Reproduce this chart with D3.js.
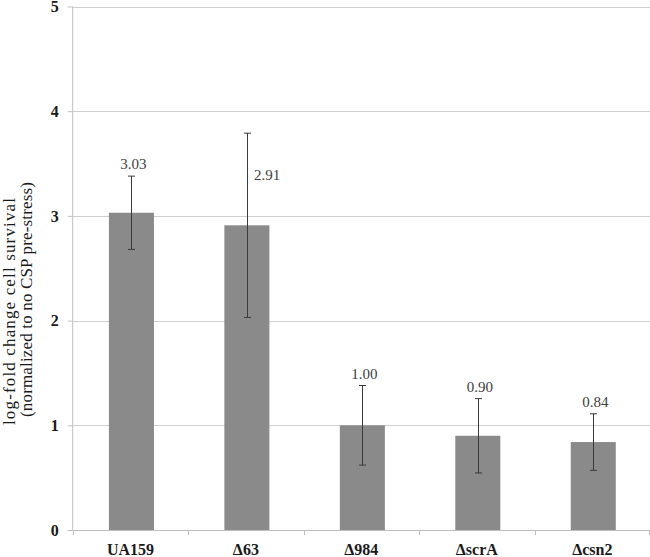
<!DOCTYPE html>
<html>
<head>
<meta charset="utf-8">
<script src="https://cdn.jsdelivr.net/npm/d3@7"></script>
<style>
  body { margin: 0; background: #fff; }
  svg { display: block; font-family: "Liberation Serif", "Times New Roman", serif; }
  .yaxis path, .yaxis line { stroke: #bfbfbf; }
  .yaxis text { font-family: "Liberation Serif", "Times New Roman", serif; font-size: 16px; font-weight: bold; fill: #1a1a1a; }
</style>
</head>
<body>
<script>
// chart values
var categories = ['UA159', '\u039463', '\u0394984', '\u0394scrA', '\u0394csn2'];
var values = [3.03, 2.91, 1.00, 0.90, 0.84];
var errors = [0.35, 0.88, 0.38, 0.355, 0.27];
var valueLabels = ['3.03', '2.91', '1.00', '0.90', '0.84'];
var yTicks = [0, 1, 2, 3, 4, 5];
var yTitleLines = ['log-fold change cell survival', '(normalized to no CSP pre-stress)'];

const w = 650;
const h = 557;
const plotLeft = 72.7, plotRight = 650, plotTop = 6.5, plotBottom = 530;

var data = categories.map(function(c, i) {
  return { name: c, value: values[i], err: errors[i], label: valueLabels[i] };
});

var xScale = d3.scaleBand()
  .domain(categories)
  .range([plotLeft, plotRight])
  .padding(0);

var yScale = d3.scaleLinear()
  .domain([0, 5])
  .range([plotBottom, plotTop]);

var chart = d3.select('body')
  .append('svg')
  .attr('width', w)
  .attr('height', h);

// gridlines
chart.append('g')
  .selectAll('line')
  .data(yTicks.filter(function(t) { return t > 0; }))
  .enter()
  .append('line')
  .attr('x1', plotLeft)
  .attr('x2', plotRight)
  .attr('y1', function(d) { return Math.round(yScale(d)) + 0.5; })
  .attr('y2', function(d) { return Math.round(yScale(d)) + 0.5; })
  .attr('stroke', '#cfcfcf')
  .attr('stroke-width', 1);

// y axis
chart.append('g')
  .attr('class', 'yaxis')
  .attr('transform', 'translate(' + plotLeft + ',0)')
  .call(d3.axisLeft(yScale).tickValues(yTicks).tickSize(5).tickPadding(9).tickFormat(d3.format('d')))
  .call(function(g) { g.select('.domain').attr('d', 'M0,' + plotTop + 'V' + plotBottom); });

// x axis line + tick marks at band edges
chart.append('line')
  .attr('x1', plotLeft).attr('x2', plotRight)
  .attr('y1', plotBottom + 0.5).attr('y2', plotBottom + 0.5)
  .attr('stroke', '#bfbfbf');

var edges = categories.map(function(c) { return xScale(c); }).concat([plotRight - 1]);
chart.append('g')
  .selectAll('line')
  .data(edges)
  .enter()
  .append('line')
  .attr('x1', function(d) { return Math.round(d) + 0.5; })
  .attr('x2', function(d) { return Math.round(d) + 0.5; })
  .attr('y1', plotBottom)
  .attr('y2', plotBottom + 5)
  .attr('stroke', '#bfbfbf');

// x labels
chart.append('g')
  .selectAll('text')
  .data(data)
  .enter()
  .append('text')
  .attr('x', function(d) { return xScale(d.name) + xScale.bandwidth() / 2; })
  .attr('y', 555)
  .attr('text-anchor', 'middle')
  .style('font-size', '16px')
  .style('font-weight', 'bold')
  .attr('fill', '#1a1a1a')
  .text(function(d) { return d.name; });

// bars
var bw = xScale.bandwidth() * 0.39;
chart.append('g')
  .selectAll('rect')
  .data(data)
  .enter()
  .append('rect')
  .attr('x', function(d) { return xScale(d.name) + (xScale.bandwidth() - bw) / 2 + 1; })
  .attr('y', function(d) { return yScale(d.value); })
  .attr('width', bw)
  .attr('height', function(d) { return plotBottom - yScale(d.value); })
  .attr('fill', '#8a8a8a');

// error bars
var errG = chart.append('g')
  .attr('stroke', '#3a3a3a')
  .attr('stroke-width', 1);

data.forEach(function(d) {
  var cx = Math.round(xScale(d.name) + xScale.bandwidth() / 2 + 1) + 0.5;
  var y1 = yScale(d.value + d.err);
  var y2 = yScale(d.value - d.err);
  errG.append('line').attr('x1', cx).attr('x2', cx).attr('y1', y1).attr('y2', y2);
  errG.append('line').attr('x1', cx - 3.5).attr('x2', cx + 3.5).attr('y1', y1).attr('y2', y1);
  errG.append('line').attr('x1', cx - 3.5).attr('x2', cx + 3.5).attr('y1', y2).attr('y2', y2);
});

// value labels (the one with a tall error bar sits beside it)
chart.append('g')
  .selectAll('text')
  .data(data)
  .enter()
  .append('text')
  .attr('x', function(d) {
    var cx = xScale(d.name) + xScale.bandwidth() / 2 + 1;
    return d.err > 0.5 ? cx + 7 : cx + 2;
  })
  .attr('y', function(d) {
    return d.err > 0.5 ? yScale(d.value) - 45 : yScale(d.value + d.err) - 7;
  })
  .attr('text-anchor', function(d) { return d.err > 0.5 ? 'start' : 'middle'; })
  .style('font-size', '15px')
  .attr('fill', '#404040')
  .text(function(d) { return d.label; });

// y title, two lines each stretched to the reference length
chart.append('text')
  .attr('transform', 'translate(14.5,311.5) rotate(-90)')
  .attr('text-anchor', 'middle')
  .attr('textLength', 227)
  .attr('lengthAdjust', 'spacing')
  .style('font-size', '17px')
  .attr('fill', '#1a1a1a')
  .text(yTitleLines[0]);

chart.append('text')
  .attr('transform', 'translate(31.5,299.5) rotate(-90)')
  .attr('text-anchor', 'middle')
  .attr('textLength', 235)
  .attr('lengthAdjust', 'spacing')
  .style('font-size', '17px')
  .attr('fill', '#1a1a1a')
  .text(yTitleLines[1]);
</script>
</body>
</html>
